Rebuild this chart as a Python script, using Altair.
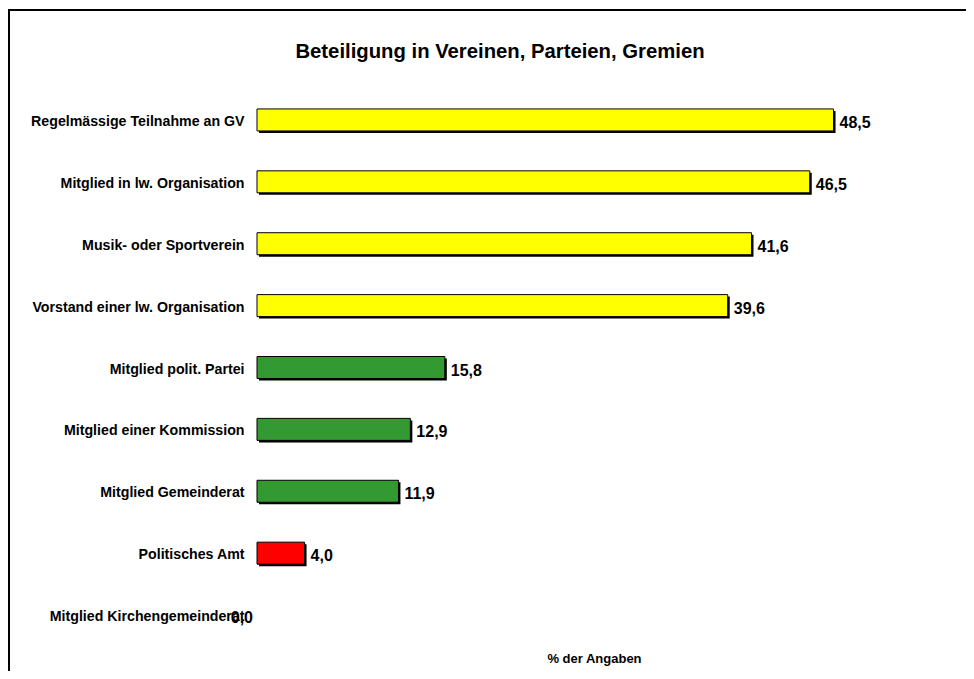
import altair as alt
import pandas as pd

categories = [
    "Regelmässige Teilnahme an GV",
    "Mitglied in lw. Organisation",
    "Musik- oder Sportverein",
    "Vorstand einer lw. Organisation",
    "Mitglied polit. Partei",
    "Mitglied einer Kommission",
    "Mitglied Gemeinderat",
    "Politisches Amt",
    "Mitglied Kirchengemeinderat",
]
values = [48.5, 46.5, 41.6, 39.6, 15.8, 12.9, 11.9, 4.0, 0.0]
colors = ["#FFFF00", "#FFFF00", "#FFFF00", "#FFFF00",
          "#339933", "#339933", "#339933", "#FF0000", "#FF0000"]

df = pd.DataFrame({
    "cat": categories,
    "val": values,
    "col": colors,
    "lbl": [f"{v:.1f}".replace(".", ",") for v in values],
})

FONT = "Liberation Sans"

x_enc = alt.X("val:Q", scale=alt.Scale(domain=[0, 56.7], nice=False),
              axis=alt.Axis(labels=False, ticks=False, domain=False, grid=False,
                            title="% der Angaben", titleFont=FONT, titleFontSize=13,
                            titleFontWeight="bold", titleColor="black", titlePadding=6))
y_enc = alt.Y("cat:N", sort=categories,
              scale=alt.Scale(paddingInner=0.6, paddingOuter=0.3),
              axis=alt.Axis(title=None, ticks=False, domain=False, grid=False,
                            labelFont=FONT, labelFontSize=14.2, labelFontWeight="bold",
                            labelColor="black", labelPadding=13, labelOffset=2,
                            labelLimit=400))

base = alt.Chart(df)

frame = base.mark_rect(fill=None, stroke="black", strokeWidth=2).encode(
    x=alt.value(-248), x2=alt.value(900), y=alt.value(-79), y2=alt.value(800)
).transform_filter("datum.cat == 'Regelmässige Teilnahme an GV'")

shadow = base.mark_bar(size=22, color="black", xOffset=2, x2Offset=2,
                       yOffset=2, y2Offset=2).encode(
    x=x_enc, y=y_enc
).transform_filter("datum.val > 0")

bars = base.mark_bar(size=22, stroke="black", strokeWidth=1).encode(
    x=x_enc, y=y_enc, fill=alt.Fill("col:N", scale=None)
).transform_filter("datum.val > 0")

labels = base.mark_text(align="left", baseline="middle", dx=6, dy=3,
                        font=FONT, fontSize=16, fontWeight="bold", color="black").encode(
    x=x_enc, y=y_enc, text="lbl:N"
).transform_filter("datum.val > 0")

zero_labels = base.mark_text(align="right", baseline="middle", dx=-4, dy=3,
                             font=FONT, fontSize=16, fontWeight="bold", color="black").encode(
    x=x_enc, y=y_enc, text="lbl:N"
).transform_filter("datum.val <= 0")

chart = alt.layer(frame, shadow, bars, labels, zero_labels).properties(
    width=674,
    height=557,
    title=alt.TitleParams("Beteiligung in Vereinen, Parteien, Gremien",
                          font=FONT, fontSize=20.3, fontWeight="bold", color="black",
                          anchor="middle", frame="group", offset=-53, dx=-94),
    autosize=alt.AutoSizeParams(type="none"),
    padding={"left": 249, "top": 81, "right": 35, "bottom": 25},
    background="white",
).configure_view(strokeWidth=0, stroke="transparent")

chart.save("out.html", embed_options={"renderer": "svg", "actions": False})
